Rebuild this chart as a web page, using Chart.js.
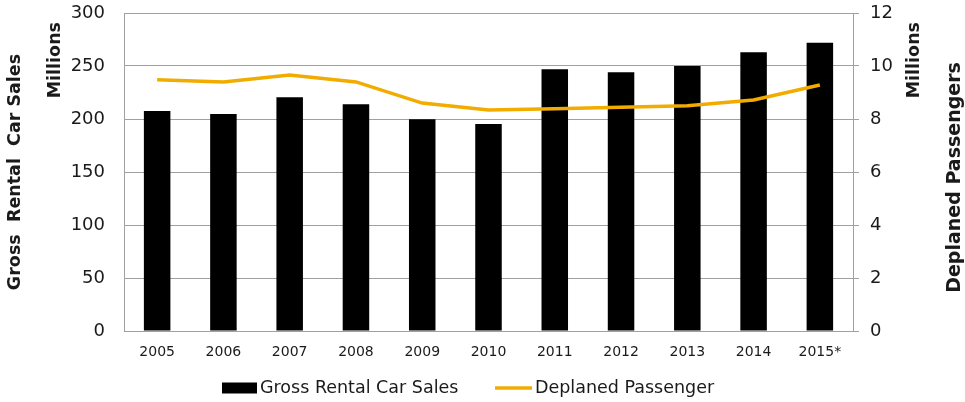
<!DOCTYPE html>
<html>
<head>
<meta charset="utf-8">
<script src="https://cdn.jsdelivr.net/npm/chart.js@4.4.1/dist/chart.umd.min.js"></script>
<style>
  html, body { margin: 0; padding: 0; background: #fff; }
  #wrap { width: 965px; height: 402px; }
</style>
</head>
<body>
<div id="wrap"><canvas id="c" width="965" height="402"></canvas></div>
<script>
const categories = ['2005','2006','2007','2008','2009','2010','2011','2012','2013','2014','2015*'];
const rentalSales = [207.5, 204.7, 220.5, 214, 199.7, 195.3, 247, 244, 250, 263, 272];
const passengers = [9.48, 9.40, 9.66, 9.40, 8.60, 8.34, 8.39, 8.44, 8.50, 8.72, 9.28];
const leftTicks = { min: 0, max: 300, step: 50 };
const rightTicks = { min: 0, max: 12, step: 2 };
const seriesNames = ['Gross Rental Car Sales', 'Deplaned Passenger'];
const leftTitle = 'Gross  Rental  Car Sales';
const rightTitle = 'Deplaned Passengers';
const unitTitle = 'Millions';

const FONT = "'DejaVu Sans', Verdana, sans-serif";
const GRID = '#A0A0A0';
const TEXT = '#1a1a1a';
const ORANGE = '#F2AC00';

const decor = {
  id: 'decor',
  afterDraw(chart) {
    const ctx = chart.ctx;
    const area = chart.chartArea;
    const midY = (area.top + area.bottom) / 2;
    ctx.save();
    ctx.fillStyle = TEXT;
    ctx.textAlign = 'center';
    ctx.textBaseline = 'middle';
    function vtext(txt, x, y, font, align) {
      ctx.save();
      ctx.translate(x, y);
      ctx.rotate(-Math.PI / 2);
      ctx.font = font;
      ctx.textAlign = align || 'center';
      ctx.fillText(txt, 0, 0);
      ctx.restore();
    }
    vtext(leftTitle, 15, midY, 'bold 17.5px ' + FONT);
    vtext(unitTitle, 55, 22, 'bold 17.5px ' + FONT, 'right');
    vtext(unitTitle, 914, 22, 'bold 17.5px ' + FONT, 'right');
    vtext(rightTitle, 955, midY + 5.5, 'bold 19px ' + FONT);

    // legend
    const ds = chart.data.datasets;
    ctx.font = '17.5px ' + FONT;
    ctx.textAlign = 'left';
    const ly = 388;
    ctx.fillStyle = ds[0].backgroundColor;
    ctx.fillRect(222, ly - 5.5, 35, 11);
    ctx.fillStyle = TEXT;
    ctx.fillText(ds[0].label, 260, ly);
    ctx.strokeStyle = ds[1].borderColor;
    ctx.lineWidth = 3.5;
    ctx.beginPath();
    ctx.moveTo(495, ly);
    ctx.lineTo(532, ly);
    ctx.stroke();
    ctx.fillText(ds[1].label, 535, ly);
    ctx.restore();
  }
};

new Chart(document.getElementById('c'), {
  type: 'bar',
  data: {
    labels: categories,
    datasets: [
      {
        type: 'bar',
        label: seriesNames[0],
        data: rentalSales,
        backgroundColor: '#000000',
        borderWidth: 0,
        categoryPercentage: 1,
        barPercentage: 0.4,
        yAxisID: 'y',
        order: 1
      },
      {
        type: 'line',
        label: seriesNames[1],
        data: passengers,
        borderColor: ORANGE,
        backgroundColor: ORANGE,
        borderWidth: 3.5,
        pointRadius: 0,
        tension: 0,
        fill: false,
        yAxisID: 'y1',
        order: 0
      }
    ]
  },
  options: {
    responsive: false,
    devicePixelRatio: 1,
    animation: false,
    layout: { padding: { left: 62, right: 62, top: 13, bottom: 0 } },
    plugins: {
      legend: { display: false },
      tooltip: { enabled: false },
      title: { display: false }
    },
    scales: {
      x: {
        grid: { display: false, drawTicks: false },
        border: { display: true, color: GRID, width: 1 },
        ticks: { color: TEXT, font: { family: FONT, size: 14 }, padding: 13, maxRotation: 0, autoSkip: false },
        afterFit(scale) { scale.height = 71; scale.paddingLeft = 0; scale.paddingRight = 0; }
      },
      y: {
        position: 'left',
        min: leftTicks.min, max: leftTicks.max,
        grid: { color: GRID, lineWidth: 1, drawTicks: false },
        border: { display: true, color: GRID, width: 1 },
        ticks: { stepSize: leftTicks.step, color: TEXT, font: { family: FONT, size: 18 }, padding: 19 },
        afterFit(scale) { scale.width = 62; scale.paddingTop = 0; scale.paddingBottom = 0; }
      },
      y1: {
        position: 'right',
        min: rightTicks.min, max: rightTicks.max,
        grid: { drawOnChartArea: false, drawTicks: true, tickLength: 6, color: GRID, lineWidth: 1 },
        border: { display: true, color: GRID, width: 1 },
        ticks: { stepSize: rightTicks.step, color: TEXT, font: { family: FONT, size: 18 }, padding: 11 },
        afterFit(scale) { scale.width = 50; scale.paddingTop = 0; scale.paddingBottom = 0; }
      }
    }
  },
  plugins: [decor]
});
</script>
</body>
</html>
